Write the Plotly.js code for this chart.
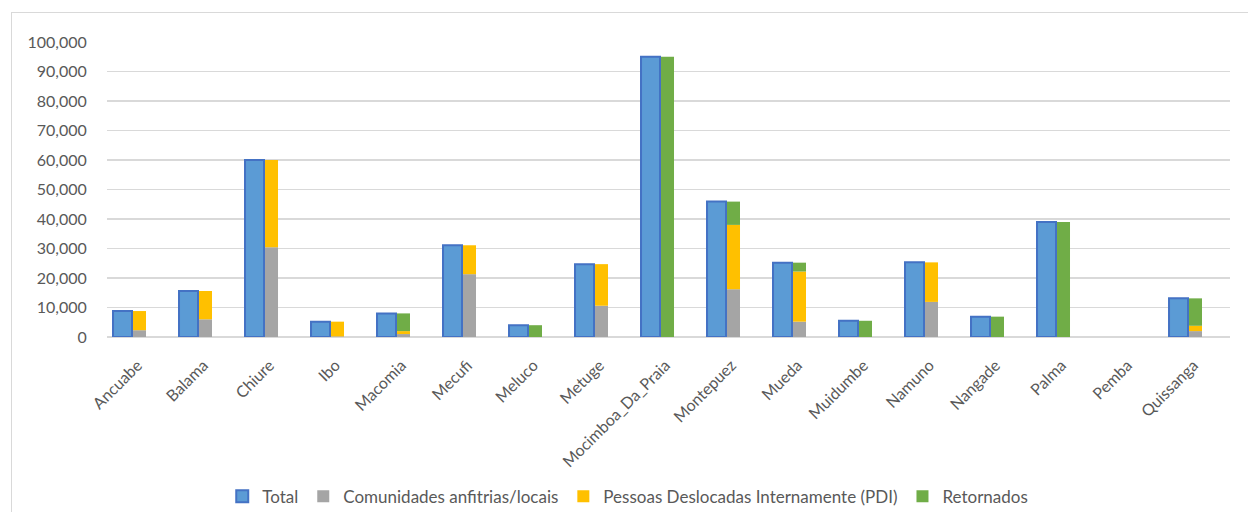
<!DOCTYPE html>
<html>
<head>
<meta charset="utf-8">
<script src="https://cdn.plot.ly/plotly-3.0.1.min.js"></script>
<style>
  html, body { margin: 0; padding: 0; background: #fff; }
  #wrap { position: relative; width: 1248px; height: 512px; }
  #chart { position: absolute; left: 0; top: 0; width: 1248px; height: 512px; }
  #frame { position: absolute; left: 11px; top: 12px; width: 1237px; height: 500px;
           border-left: 1px solid #D9D9D9; border-top: 1px solid #D9D9D9; pointer-events: none; }
</style>
</head>
<body>
<div id="wrap">
  <div id="chart"></div>
  <div id="frame"></div>
</div>
<script>
const categories = ["Ancuabe","Balama","Chiure","Ibo","Macomia","Mecufi","Meluco","Metuge",
  "Mocimboa_Da_Praia","Montepuez","Mueda","Muidumbe","Namuno","Nangade","Palma","Pemba","Quissanga"];
const total      = [8800, 15600, 60000, 5200, 8000, 31100, 4000, 24700, 95000, 45900, 25200, 5500, 25300, 6900, 39000, 0, 13100];
const comunidades = [2300, 6000, 30400, 200, 1000, 21300, 0, 10600, 0, 16200, 5200, 0, 11900, 0, 0, 0, 2000];
const pdi         = [6500, 9600, 29600, 5000, 1000, 9800, 0, 14100, 0, 21800, 17000, 0, 13400, 0, 0, 0, 1800];
const retornados  = [0, 0, 0, 0, 6000, 0, 4000, 0, 95000, 7900, 3000, 5500, 0, 6900, 39000, 0, 9300];
const yTicks = [0, 10000, 20000, 30000, 40000, 50000, 60000, 70000, 80000, 90000, 100000];
const yTickText = ["0","10,000","20,000","30,000","40,000","50,000","60,000","70,000","80,000","90,000","100,000"];

const xs = categories.map((c, i) => i);
const basePdi = comunidades.map((v) => v);
const baseRet = comunidades.map((v, i) => v + pdi[i]);

const stackOffset = 0.053, stackWidth = 0.197;
const traces = [
  { type: 'bar', name: 'Total', x: xs, y: total, offset: -0.25, width: 0.288,
    marker: { color: '#5B9BD5', line: { color: '#4472C4', width: total.map(v => v ? 2 : 0) } } },
  { type: 'bar', name: 'Comunidades anfitrias/locais', x: xs, y: comunidades, base: 0,
    offset: stackOffset, width: stackWidth, marker: { color: '#A5A5A5', line: { width: 0 } } },
  { type: 'bar', name: 'Pessoas Deslocadas Internamente (PDI)', x: xs, y: pdi, base: basePdi,
    offset: stackOffset, width: stackWidth, marker: { color: '#FFC000', line: { width: 0 } } },
  { type: 'bar', name: 'Retornados', x: xs, y: retornados, base: baseRet,
    offset: stackOffset, width: stackWidth, marker: { color: '#70AD47', line: { width: 0 } } }
];

const fam = 'Lato, "Open Sans", sans-serif';
const layout = {
  width: 1248, height: 512,
  margin: { l: 107, r: 18, t: 42, b: 175, pad: 0 },
  paper_bgcolor: 'rgba(0,0,0,0)', plot_bgcolor: '#fff',
  barmode: 'overlay',
  showlegend: true,
  font: { family: fam, color: '#595959' },
  xaxis: {
    range: [-0.341, 16.674],
    tickmode: 'array', tickvals: xs, ticktext: categories,
    tickangle: -45, tickfont: { family: fam, size: 16, color: '#595959' },
    ticklabelshift: 8, ticklabelstandoff: 15,
    showgrid: false, zeroline: false, showline: false, ticks: '', fixedrange: true
  },
  yaxis: {
    range: [0, 100000],
    tickmode: 'array', tickvals: yTicks, ticktext: yTickText,
    tickfont: { family: fam, size: 16, color: '#595959' },
    showgrid: true, gridcolor: '#D9D9D9', gridwidth: 1.5,
    zeroline: true, zerolinecolor: '#D9D9D9', zerolinewidth: 1.5,
    showline: false, ticks: 'outside', ticklen: 16, tickcolor: 'rgba(0,0,0,0)', fixedrange: true
  },
  legend: {
    orientation: 'h', xref: 'container', yref: 'container',
    x: 0.503, xanchor: 'center', y: 0.03, yanchor: 'middle',
    font: { family: fam, size: 17, color: '#595959' },
    itemwidth: 30, traceorder: 'normal', bgcolor: 'rgba(0,0,0,0)'
  }
};

Plotly.newPlot('chart', traces, layout, { staticPlot: true, displayModeBar: false });
</script>
</body>
</html>
